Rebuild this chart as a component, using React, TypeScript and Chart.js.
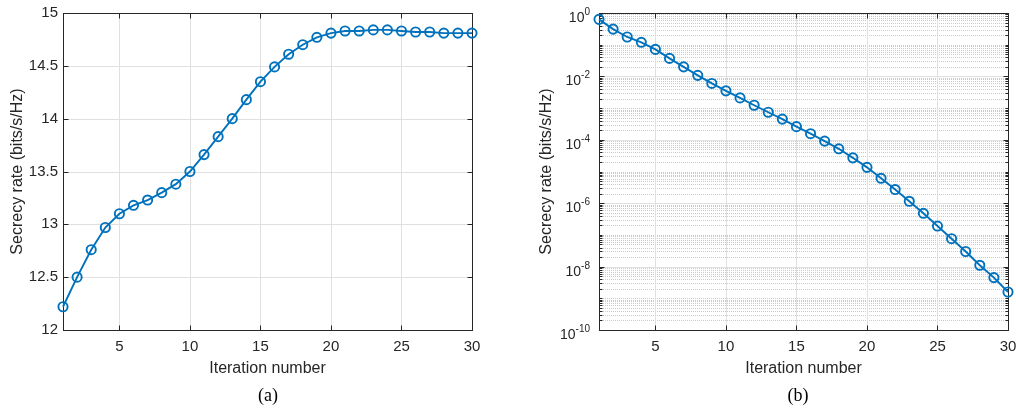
import React, { useEffect, useRef } from "react";
import { Chart, registerables } from "chart.js";

Chart.register(...registerables);

// ---------------- data ----------------
const iterations = [1, 2, 3, 4, 5, 6, 7, 8, 9, 10, 11, 12, 13, 14, 15, 16, 17, 18, 19, 20, 21, 22, 23, 24, 25, 26, 27, 28, 29, 30];
const secrecyRateA = [
  12.22, 12.5, 12.76, 12.97, 13.1, 13.18, 13.23, 13.3, 13.38, 13.5,
  13.66, 13.83, 14.0, 14.18, 14.35, 14.49, 14.61, 14.7, 14.77, 14.81,
  14.83, 14.83, 14.84, 14.84, 14.83, 14.82, 14.82, 14.81, 14.81, 14.81,
];
const secrecyRateB = [
  0.63, 0.31, 0.175, 0.119, 0.071, 0.037, 0.02, 0.0108, 0.006, 0.0035,
  0.0021, 0.00123, 7.4e-4, 4.5e-4, 2.6e-4, 1.56e-4, 9.1e-5, 5.2e-5, 2.7e-5, 1.35e-5,
  6.1e-6, 2.7e-6, 1.15e-6, 4.8e-7, 1.9e-7, 7.6e-8, 3.0e-8, 1.1e-8, 4.5e-9, 1.58e-9,
];
const xTickValues = [5, 10, 15, 20, 25, 30];
const yTickValuesA = [12, 12.5, 13, 13.5, 14, 14.5, 15];
const yTickLabelsA = ["12", "12.5", "13", "13.5", "14", "14.5", "15"];
const yExponentsB = [0, -2, -4, -6, -8, -10];
const yDecadesB = [-10, -9, -8, -7, -6, -5, -4, -3, -2, -1];
const minorMultipliers = [2, 3, 4, 5, 6, 7, 8, 9];
const xTitle = "Iteration number";
const yTitle = "Secrecy rate (bits/s/Hz)";
const captions = ["(a)", "(b)"];

// ---------------- styles ----------------
const BLUE = "#0072BD";
const AXIS = "#262626";
const GRID = "#e0e0e0";
const MINOR = "#cbcbcb";
const FONT = '"Liberation Sans", Arial, sans-serif';

type FrameOpts = {
  yMajor: number[];
  yMinor: number[];
  minorGrid: boolean;
  logLabels: boolean;
};

function framePlugin(o: FrameOpts) {
  return {
    id: "matlabFrame",
    beforeDatasetsDraw(chart: any) {
      const { ctx, chartArea } = chart;
      const { left, right, top, bottom } = chartArea;
      const xs = chart.scales.x;
      const ys = chart.scales.y;
      const snap = (v: number) => Math.round(v) + 0.5;
      ctx.save();
      ctx.lineWidth = 1;
      if (o.minorGrid) {
        ctx.strokeStyle = MINOR;
        ctx.setLineDash([1, 1]);
        for (const v of o.yMinor) {
          const p = snap(ys.getPixelForValue(v));
          ctx.beginPath();
          ctx.moveTo(left, p);
          ctx.lineTo(right, p);
          ctx.stroke();
        }
        ctx.setLineDash([]);
      }
      ctx.strokeStyle = GRID;
      for (const v of xTickValues) {
        const p = snap(xs.getPixelForValue(v));
        if (p <= left + 1 || p >= right - 1) continue;
        ctx.beginPath();
        ctx.moveTo(p, top);
        ctx.lineTo(p, bottom);
        ctx.stroke();
      }
      for (const v of o.yMajor) {
        const p = snap(ys.getPixelForValue(v));
        if (p <= top + 1 || p >= bottom - 1) continue;
        ctx.beginPath();
        ctx.moveTo(left, p);
        ctx.lineTo(right, p);
        ctx.stroke();
      }
      // box
      ctx.strokeStyle = AXIS;
      const L = snap(left), R = snap(right), T = snap(top), B = snap(bottom);
      ctx.strokeRect(L, T, R - L, B - T);
      // inward ticks
      ctx.beginPath();
      for (const v of xTickValues) {
        const p = snap(xs.getPixelForValue(v));
        ctx.moveTo(p, B);
        ctx.lineTo(p, B - 5);
        ctx.moveTo(p, T);
        ctx.lineTo(p, T + 5);
      }
      for (const v of o.yMajor) {
        const p = snap(ys.getPixelForValue(v));
        ctx.moveTo(L, p);
        ctx.lineTo(L + 5, p);
        ctx.moveTo(R, p);
        ctx.lineTo(R - 5, p);
      }
      if (o.minorGrid) {
        for (const v of o.yMinor) {
          const p = snap(ys.getPixelForValue(v));
          ctx.moveTo(L, p);
          ctx.lineTo(L + 3, p);
          ctx.moveTo(R, p);
          ctx.lineTo(R - 3, p);
        }
      }
      ctx.stroke();
      ctx.restore();
    },
    afterDraw(chart: any) {
      if (!o.logLabels) return;
      const { ctx, chartArea } = chart;
      const ys = chart.scales.y;
      ctx.save();
      ctx.fillStyle = AXIS;
      ctx.textAlign = "left";
      ctx.textBaseline = "alphabetic";
      const xRight = chartArea.left - 9;
      for (const e of yExponentsB) {
        const p = ys.getPixelForValue(Math.pow(10, e));
        const exp = String(e);
        ctx.font = `10px ${FONT}`;
        const ew = ctx.measureText(exp).width;
        ctx.font = `14px ${FONT}`;
        const bw = ctx.measureText("10").width;
        ctx.fillText("10", xRight - ew - bw, p + 9);
        ctx.font = `10px ${FONT}`;
        ctx.fillText(exp, xRight - ew, p + 2);
      }
      ctx.restore();
    },
  };
}

function buildConfig(kind: "lin" | "log", values: number[], canvasW: number, yWidth: number, plotRight: number, titlePad: number): any {
  const isLog = kind === "log";
  const yMinor: number[] = [];
  if (isLog) {
    for (const d of yDecadesB) {
      if (d % 2 !== 0) yMinor.push(Math.pow(10, d));
      for (const m of minorMultipliers) yMinor.push(m * Math.pow(10, d));
    }
  }
  const yMajor = isLog ? yExponentsB.map((e) => Math.pow(10, e)) : yTickValuesA;
  return {
    type: "line",
    data: {
      datasets: [
        {
          data: iterations.map((x, i) => ({ x, y: values[i] })),
          borderColor: BLUE,
          borderWidth: 1.9,
          pointRadius: 4.6,
          pointBorderWidth: 1.9,
          pointBorderColor: BLUE,
          pointBackgroundColor: "rgba(0,0,0,0)",
          fill: false,
          tension: 0,
          clip: false,
        },
      ],
    },
    options: {
      animation: false,
      responsive: false,
      maintainAspectRatio: false,
      events: [],
      layout: { padding: { left: 0, top: 13, right: canvasW - plotRight, bottom: 33 } },
      plugins: { legend: { display: false }, tooltip: { enabled: false } },
      scales: {
        x: {
          type: "linear",
          min: 1,
          max: 30,
          afterBuildTicks: (s: any) => {
            s.ticks = xTickValues.map((v) => ({ value: v }));
          },
          afterFit: (s: any) => {
            s.height = 50;
            s.paddingLeft = 0;
            s.paddingRight = 0;
          },
          grid: { display: false, drawTicks: false },
          border: { display: false },
          ticks: {
            autoSkip: false,
            maxRotation: 0,
            padding: 8,
            color: AXIS,
            font: { family: FONT, size: 15 },
            callback: (v: any) => String(v),
          },
          title: {
            display: true,
            text: xTitle,
            color: AXIS,
            font: { family: FONT, size: 16 },
            padding: { top: 0, bottom: 2 },
          },
        },
        y: {
          type: isLog ? "logarithmic" : "linear",
          min: isLog ? 1e-10 : 12,
          max: isLog ? 1 : 15,
          afterBuildTicks: (s: any) => {
            s.ticks = yMajor.map((v) => ({ value: v }));
          },
          afterFit: (s: any) => {
            s.width = yWidth;
            s.paddingTop = 0;
            s.paddingBottom = 0;
          },
          grid: { display: false, drawTicks: false },
          border: { display: false },
          ticks: {
            display: !isLog,
            autoSkip: false,
            padding: 5,
            color: AXIS,
            font: { family: FONT, size: 15 },
            callback: (v: any) => {
              const i = yTickValuesA.indexOf(Number(v));
              return i >= 0 ? yTickLabelsA[i] : "";
            },
          },
          title: {
            display: true,
            text: yTitle,
            color: AXIS,
            font: { family: FONT, size: 16 },
            padding: { top: titlePad, bottom: 0 },
          },
        },
      },
    },
    plugins: [framePlugin({ yMajor, yMinor, minorGrid: isLog, logLabels: isLog })],
  };
}

function ChartCanvas({ left, width, config }: { left: number; width: number; config: () => any }) {
  const ref = useRef<HTMLCanvasElement>(null);
  useEffect(() => {
    const chart = new Chart(ref.current as HTMLCanvasElement, config());
    return () => chart.destroy();
  }, []);
  return (
    <canvas
      ref={ref}
      width={width}
      height={413}
      style={{ position: "absolute", left, top: 0, width, height: 413 }}
    />
  );
}

export default function App() {
  const captionStyle = (cx: number): React.CSSProperties => ({
    position: "absolute",
    left: cx - 40,
    width: 80,
    top: 384,
    lineHeight: "22px",
    textAlign: "center",
    fontFamily: '"Liberation Serif", "Times New Roman", serif',
    fontSize: 18,
    color: "#000",
  });
  return (
    <div style={{ position: "absolute", left: 0, top: 0, width: 1016, height: 413, background: "#fff", overflow: "hidden" }}>
      <ChartCanvas left={0} width={500} config={() => buildConfig("lin", secrecyRateA, 500, 63, 472, 8)} />
      <ChartCanvas left={500} width={516} config={() => buildConfig("log", secrecyRateB, 516, 99, 508, 37)} />
      <div style={captionStyle(268)}>{captions[0]}</div>
      <div style={captionStyle(798)}>{captions[1]}</div>
    </div>
  );
}
